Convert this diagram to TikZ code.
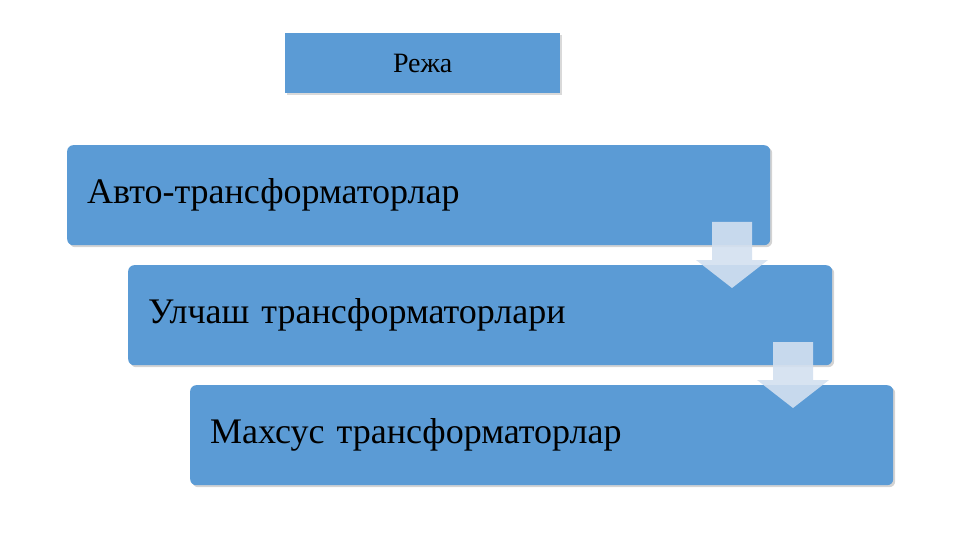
\documentclass[tikz,border=0pt]{standalone}
\usepackage{fontspec}
\setmainfont{Liberation Serif}
\usetikzlibrary{shadows}
\definecolor{boxblue}{HTML}{5B9BD5}
\definecolor{arrowblue}{HTML}{D3E0F0}
\tikzset{
  stagebox/.style={fill=boxblue,rounded corners=6pt,minimum height=100pt,
    text width=703pt,inner xsep=20pt,align=left,anchor=north west,
    font=\fontsize{36}{40}\selectfont,drop shadow={opacity=0.35,shadow xshift=2pt,shadow yshift=-2pt}},
  titlebox/.style={fill=boxblue,minimum width=275pt,minimum height=60pt,anchor=north west,
    font=\fontsize{28}{32}\selectfont,drop shadow={opacity=0.3,shadow xshift=2pt,shadow yshift=-2pt}},
  downarrow/.style={fill=arrowblue,fill opacity=0.9}
}
\begin{document}
\begin{tikzpicture}[x=1pt,y=-1pt]
        \useasboundingbox (0,0) rectangle (961,540);
        \node[titlebox] (title) at (285,33) {Режа};
        \node[stagebox,text width=663pt] (auto) at (67,145) {Авто-трансформаторлар};
        \node[stagebox,text width=664pt] (weld) at (128,265) {Улчаш трансформаторлари};
        \node[stagebox,text width=663pt] (spec) at (190,385) {Махсус трансформаторлар};
        \fill[downarrow] (712,222) -- (752,222) -- (752,260) -- (768,260) -- (732,288) -- (696,260) -- (712,260) -- cycle;
        \fill[downarrow] (773,342) -- (813,342) -- (813,380) -- (829,380) -- (793,408) -- (757,380) -- (773,380) -- cycle;
    \end{tikzpicture}
\end{document}
